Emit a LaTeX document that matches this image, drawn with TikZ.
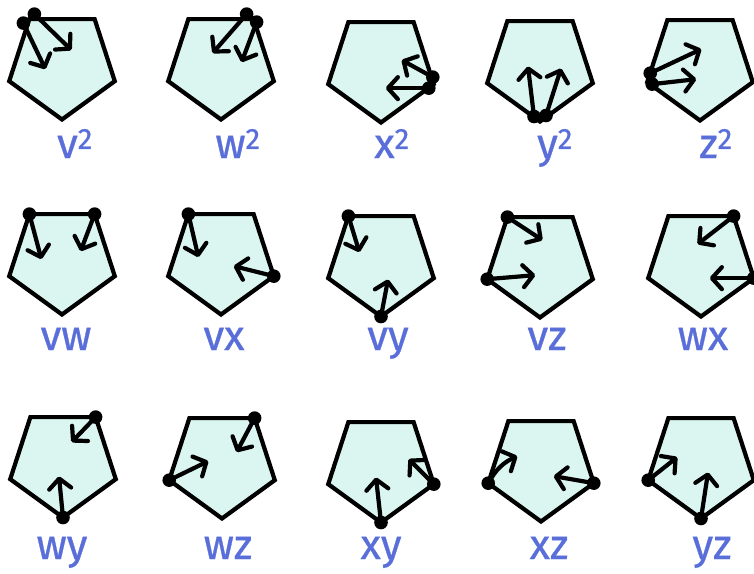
\documentclass[tikz,border=0pt]{standalone}
\usepackage{fontspec}
\newfontfamily\mano[FakeBold=0.7]{Fira Sans}
\usetikzlibrary{arrows.meta}
\definecolor{menta}{HTML}{DBF6F0}
\definecolor{tinta}{HTML}{5A6EDA}
\tikzset{
  >={Straight Barb[length=10pt,width=22pt,round]},
  flecha/.style={->, line width=4.2pt, line cap=round, line join=round},
  borde/.style={line width=4.2pt, line join=miter, fill=menta},
  etiq/.style={anchor=base, text=tinta, font=\mano\fontsize{42}{42}\selectfont},
  pics/penta/.style={code={
    \draw[borde] (126:55.5) coordinate (-v) -- (54:55.5) coordinate (-w)
      -- (-18:55.5) coordinate (-x) -- (-90:55.5) coordinate (-y)
      -- (198:55.5) coordinate (-z) -- cycle;
  }},
}

\begin{document}
\begin{tikzpicture}[x=1pt,y=1pt]
  \useasboundingbox (0,-573) rectangle (754,0);
  % fila de arriba: cuadrados
  \pic (p1) at (62,-64) {penta};
  \pic (p2) at (221,-64) {penta};
  \pic (p3) at (381,-67) {penta};
  \pic (p4) at (540,-66) {penta};
  \pic (p5) at (700,-65) {penta};
  \coordinate (p1-v1) at ([shift={(-6,-4)}]p1-v);
  \coordinate (p1-v2) at ([shift={(5,5)}]p1-v);
  \coordinate (p2-w1) at ([shift={(-7,5)}]p2-w);
  \coordinate (p2-w2) at ([shift={(3,-3)}]p2-w);
  \coordinate (p3-x1) at ([shift={(-1,7)}]p3-x);
  \coordinate (p3-x2) at ([shift={(-5,-4)}]p3-x);
  \coordinate (p4-y1) at ([shift={(-6,5)}]p4-y);
  \coordinate (p4-y2) at ([shift={(6,6)}]p4-y);
  \coordinate (p5-z1) at ([shift={(3,9)}]p5-z);
  \coordinate (p5-z2) at ([shift={(5,-2)}]p5-z);
  \draw[flecha] (p1-v1) -- ++(22,-46);
  \draw[flecha] (p1-v2) -- ++(37,-36);
  \draw[flecha] (p2-w1) -- ++(-34,-39);
  \draw[flecha] (p2-w2) -- ++(-15,-40);
  \draw[flecha] (p3-x1) -- ++(-31,17);
  \draw[flecha] (p3-x2) -- ++(-43,0);
  \draw[flecha] (p4-y1) -- ++(-6,50);
  \draw[flecha] (p4-y2) -- ++(15,47);
  \draw[flecha] (p5-z1) -- ++(51,24);
  \draw[flecha] (p5-z2) -- ++(44,5);
  \fill (p1-v1) circle (6.8) (p1-v2) circle (6.8) (p2-w1) circle (6.8) (p2-w2) circle (6.8)
    (p3-x1) circle (6.8) (p3-x2) circle (6.8) (p4-y1) circle (6.8) (p4-y2) circle (6.8)
    (p5-z1) circle (6.8) (p5-z2) circle (6.8);
  \node[etiq] (l1) at (75,-158) {v\textsuperscript{2}};
  \node[etiq] (l2) at (238,-158) {w\textsuperscript{2}};
  \node[etiq] (l3) at (392,-158) {x\textsuperscript{2}};
  \node[etiq] (l4) at (555,-158) {y\textsuperscript{2}};
  \node[etiq] (l5) at (716,-158) {z\textsuperscript{2}};
  % fila del medio
  \pic (p6) at (62,-259) {penta};
  \pic (p7) at (221,-259) {penta};
  \pic (p8) at (381,-261) {penta};
  \pic (p9) at (540,-262) {penta};
  \pic (p10) at (701,-261) {penta};
  \draw[flecha] (p6-v) -- ++(12,-45);
  \draw[flecha] (p6-w) -- ++(-14,-37);
  \draw[flecha] (p7-v) -- ++(10,-43);
  \draw[flecha] (p7-x) -- ++(-40,10);
  \draw[flecha] (p8-v) -- ++(11,-36);
  \draw[flecha] (p8-y) -- ++(7,37);
  \draw[flecha] (p9-v) -- ++(35,-23);
  \draw[flecha] (p9-z) -- ++(48,4);
  \draw[flecha] (p10-w) -- ++(-36,-28);
  \draw[flecha] (p10-x) -- ++(-44,0);
  \fill (p6-v) circle (6.8) (p6-w) circle (6.8) (p7-v) circle (6.8) (p7-x) circle (6.8)
    (p8-v) circle (6.8) (p8-y) circle (6.8) (p9-v) circle (6.8) (p9-z) circle (6.8)
    (p10-w) circle (6.8) (p10-x) circle (6.8);
  \node[etiq] (l6) at (66,-350) {vw};
  \node[etiq] (l7) at (224,-350) {vx};
  \node[etiq] (l8) at (388,-350) {vy};
  \node[etiq] (l9) at (547,-350) {vz};
  \node[etiq] (l10) at (703,-350) {wx};
  % fila de abajo
  \pic (p11) at (63,-462) {penta};
  \pic (p12) at (222,-463) {penta};
  \pic (p13) at (381,-467) {penta};
  \pic (p14) at (541,-466) {penta};
  \pic (p15) at (701,-463) {penta};
  \draw[flecha] (p11-w) -- ++(-24,-25);
  \draw[flecha] (p11-y) -- ++(-4,41);
  \draw[flecha] (p12-w) -- ++(-18,-34);
  \draw[flecha] (p12-z) -- ++(39,19);
  \draw[flecha] (p13-x) -- ++(-25,25);
  \draw[flecha] (p13-y) -- ++(-5,45);
  \draw[flecha] (p14-z) to[bend left=18] ++(29,27);
  \draw[flecha] (p14-x) -- ++(-40,7);
  \draw[flecha] (p15-z) -- ++(29,23);
  \draw[flecha] (p15-y) -- ++(7,46);
  \fill (p11-w) circle (6.8) (p11-y) circle (6.8) (p12-w) circle (6.8) (p12-z) circle (6.8)
    (p13-x) circle (6.8) (p13-y) circle (6.8) (p14-z) circle (6.8) (p14-x) circle (6.8)
    (p15-z) circle (6.8) (p15-y) circle (6.8);
  \node[etiq] (l11) at (62,-559) {wy};
  \node[etiq] (l12) at (228,-559) {wz};
  \node[etiq] (l13) at (381,-559) {xy};
  \node[etiq] (l14) at (549,-559) {xz};
  \node[etiq] (l15) at (712,-559) {yz};
\end{tikzpicture}
\end{document}
